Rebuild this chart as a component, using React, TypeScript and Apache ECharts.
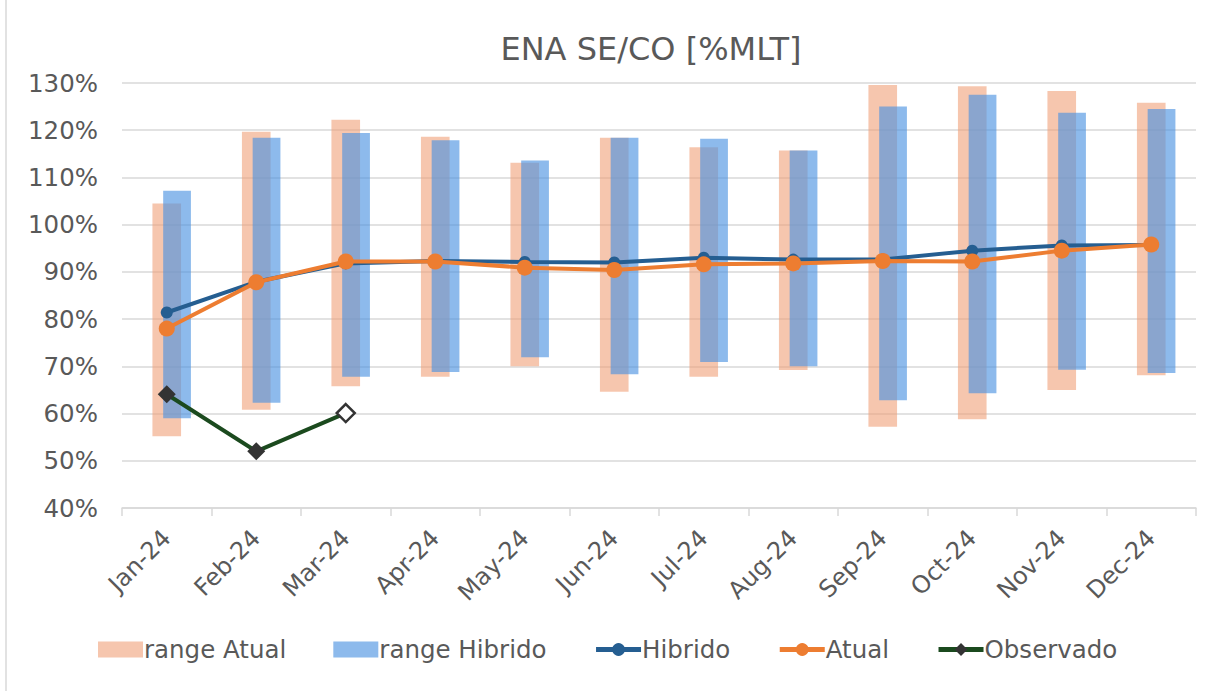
import React, { useEffect, useRef } from "react";
import * as echarts from "echarts";

const months = ["Jan-24", "Feb-24", "Mar-24", "Apr-24", "May-24", "Jun-24", "Jul-24", "Aug-24", "Sep-24", "Oct-24", "Nov-24", "Dec-24"];
const atualLow = [55.2, 60.8, 65.8, 67.8, 70.0, 64.6, 67.8, 69.2, 57.2, 58.8, 65.0, 68.1];
const atualHigh = [104.5, 119.7, 122.2, 118.6, 113.1, 118.4, 116.4, 115.7, 129.6, 129.3, 128.3, 125.8];
const hibridoLow = [59.0, 62.3, 67.8, 68.8, 71.9, 68.3, 70.9, 70.0, 62.8, 64.3, 69.3, 68.6];
const hibridoHigh = [107.2, 118.4, 119.4, 117.9, 113.6, 118.4, 118.2, 115.7, 125.0, 127.5, 123.7, 124.5];
const hibrido = [81.4, 87.9, 91.8, 92.3, 92.1, 92.0, 93.0, 92.6, 92.6, 94.5, 95.6, 95.7];
const atual = [78.0, 87.8, 92.2, 92.2, 90.9, 90.4, 91.6, 91.8, 92.3, 92.2, 94.5, 95.8];
const observado: (number | null)[] = [64.1, 52.0, 60.1, null, null, null, null, null, null, null, null, null];
const yTicks = { min: 40, max: 130, interval: 10 };

const FONT = "DejaVu Sans";
const TXT = "#595959";

function rangeRender(offsetFrac: number, widthFrac: number) {
  return (params: any, api: any) => {
    const idx = api.value(0);
    const top = api.coord([idx, api.value(2)]);
    const bot = api.coord([idx, api.value(1)]);
    const band = api.size([1, 0])[0];
    const w = band * widthFrac;
    const cx = top[0] + band * offsetFrac;
    return {
      type: "rect",
      shape: { x: cx - w / 2, y: top[1], width: w, height: bot[1] - top[1] },
      style: { fill: api.visual("color") },
    };
  };
}

export default function App() {
  const ref = useRef<HTMLDivElement>(null);
  useEffect(() => {
    if (!ref.current) return;
    const chart = echarts.init(ref.current, undefined, { renderer: "svg" });
    const atualRange = months.map((_, i) => [i, atualLow[i], atualHigh[i]]);
    const hibridoRange = months.map((_, i) => [i, hibridoLow[i], hibridoHigh[i]]);
    const obsData = observado.map((v, i) =>
      i === 2 && v != null
        ? { value: v, itemStyle: { color: "#ffffff", borderColor: "#333333", borderWidth: 2.5 } }
        : v
    );
    chart.setOption({
      animation: false,
      textStyle: { fontFamily: FONT },
      title: {
        text: "ENA SE/CO [%MLT]",
        left: 646,
        top: 28,
        textAlign: "center",
        textStyle: { fontFamily: FONT, fontSize: 32, fontWeight: "normal", color: TXT },
      },
      grid: { left: 122, right: 23, top: 83, bottom: 183, containLabel: false },
      legend: {
        left: 93,
        top: 632,
        itemWidth: 45,
        itemHeight: 16,
        itemGap: 47,
        textStyle: { fontFamily: FONT, fontSize: 24.5, color: TXT, padding: [0, 0, 0, -4] },
        data: [
          { name: "range Atual", icon: "rect" },
          { name: "range Hibrido", icon: "rect" },
          { name: "Hibrido", lineStyle: { width: 5 } },
          { name: "Atual", lineStyle: { width: 5 } },
          { name: "Observado", lineStyle: { width: 5 } },
        ],
      },
      xAxis: {
        type: "category",
        data: months,
        boundaryGap: true,
        axisLine: { lineStyle: { color: "#d9d9d9", width: 1.5 } },
        axisTick: { show: true, length: 8, lineStyle: { color: "#d9d9d9", width: 1.5 } },
        axisLabel: { rotate: 45, margin: 26, fontFamily: FONT, fontSize: 24, color: TXT },
      },
      yAxis: {
        type: "value",
        min: yTicks.min,
        max: yTicks.max,
        interval: yTicks.interval,
        axisLine: { show: false },
        axisTick: { show: false },
        splitLine: { lineStyle: { color: "#d9d9d9", width: 1.5 } },
        axisLabel: { formatter: "{value}%", margin: 24, fontFamily: FONT, fontSize: 24.5, color: TXT },
      },
      graphic: [
        { type: "line", shape: { x1: 6, y1: 0, x2: 6, y2: 691 }, style: { stroke: "#d9d9d9", lineWidth: 1.5 } },
      ],
      series: [
        {
          name: "range Atual",
          type: "custom",
          renderItem: rangeRender(0, 0.32),
          encode: { x: 0, y: [1, 2] },
          itemStyle: { color: "rgba(240,160,120,0.6)" },
          data: atualRange,
          z: 1,
        },
        {
          name: "range Hibrido",
          type: "custom",
          renderItem: rangeRender(0.115, 0.31),
          encode: { x: 0, y: [1, 2] },
          itemStyle: { color: "rgba(75,145,225,0.63)" },
          data: hibridoRange,
          z: 2,
        },
        {
          name: "Hibrido",
          type: "line",
          data: hibrido,
          symbol: "circle",
          symbolSize: 12,
          lineStyle: { color: "#255E91", width: 4 },
          itemStyle: { color: "#255E91" },
          z: 3,
        },
        {
          name: "Atual",
          type: "line",
          data: atual,
          symbol: "circle",
          symbolSize: 16,
          lineStyle: { color: "#ED7D31", width: 4 },
          itemStyle: { color: "#ED7D31" },
          z: 4,
        },
        {
          name: "Observado",
          type: "line",
          data: obsData,
          symbol: "diamond",
          symbolSize: 18,
          connectNulls: false,
          lineStyle: { color: "#1B4A1E", width: 4 },
          itemStyle: { color: "#333333" },
          z: 5,
        },
      ],
    });
    return () => chart.dispose();
  }, []);
  return <div ref={ref} style={{ position: "absolute", left: 0, top: 0, width: 1219, height: 691, background: "#fff" }} />;
}
